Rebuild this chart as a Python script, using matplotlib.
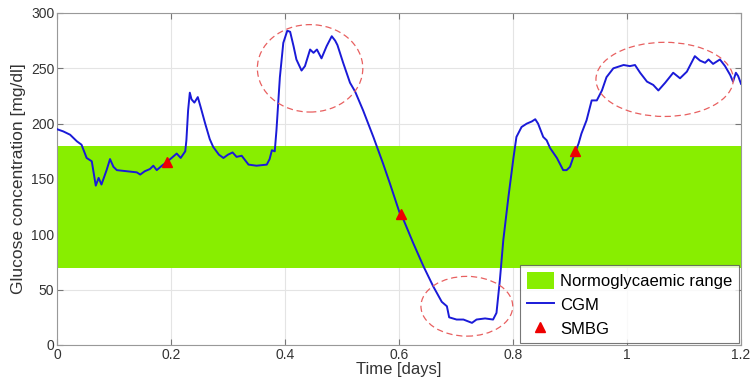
import matplotlib
matplotlib.use("Agg")
import matplotlib.pyplot as plt
from matplotlib.patches import Ellipse

plt.rcParams['font.family'] = ['Liberation Sans', 'DejaVu Sans']

# CGM trace: time [days] and glucose [mg/dl]
cgm_t = [0.000, 0.011, 0.023, 0.035, 0.043, 0.052, 0.061, 0.068, 0.073, 0.078,
         0.087, 0.093, 0.099, 0.105, 0.122, 0.140, 0.146, 0.154, 0.163, 0.169,
         0.175, 0.184, 0.192, 0.201, 0.210, 0.217, 0.225, 0.227, 0.230, 0.233,
         0.236, 0.241, 0.247, 0.252, 0.260, 0.268, 0.274, 0.284, 0.292, 0.300,
         0.308, 0.315, 0.324, 0.336, 0.350, 0.368, 0.373, 0.377, 0.382, 0.385,
         0.391, 0.397, 0.404, 0.409, 0.415, 0.420, 0.429, 0.435, 0.444, 0.450,
         0.456, 0.464, 0.473, 0.482, 0.488, 0.492, 0.502, 0.514, 0.523, 0.537,
         0.555, 0.572, 0.584, 0.602, 0.608, 0.625, 0.643, 0.660, 0.675, 0.684,
         0.688, 0.701, 0.713, 0.728, 0.736, 0.751, 0.765, 0.771, 0.777, 0.783,
         0.792, 0.801, 0.806, 0.815, 0.824, 0.833, 0.839, 0.844, 0.853, 0.859,
         0.865, 0.877, 0.888, 0.894, 0.900, 0.906, 0.915, 0.920, 0.929, 0.938,
         0.947, 0.956, 0.964, 0.976, 0.994, 1.005, 1.014, 1.023, 1.035, 1.046,
         1.055, 1.067, 1.081, 1.093, 1.105, 1.119, 1.128, 1.137, 1.143, 1.151,
         1.163, 1.172, 1.181, 1.186, 1.191, 1.195, 1.200]
cgm_g = [195, 193, 190, 184, 181, 169, 166, 144, 151, 145,
         158, 168, 161, 158, 157, 156, 154, 157, 159, 162,
         158, 162, 165, 169, 173, 169, 175, 185, 212, 228,
         222, 219, 224, 215, 200, 186, 179, 172, 169, 172,
         174, 170, 171, 163, 162, 163, 168, 176, 175, 194,
         242, 273, 284, 283, 270, 258, 248, 252, 267, 264,
         267, 259, 270, 279, 275, 271, 255, 237, 229, 212,
         188, 164, 146, 118, 113, 92, 71, 53, 39, 35,
         25, 23, 23, 20, 23, 24, 23, 29, 59, 95,
         134, 170, 188, 197, 200, 202, 204, 200, 188, 185,
         178, 169, 158, 158, 161, 170, 182, 191, 203, 221,
         221, 230, 242, 250, 253, 252, 253, 246, 238, 235,
         230, 237, 246, 241, 247, 261, 257, 255, 258, 254,
         258, 252, 244, 238, 246, 243, 236]

# SMBG finger-stick measurements
smbg_t = [0.193, 0.603, 0.909]
smbg_g = [165, 118, 175]

# normoglycaemic band limits
normo_low, normo_high = 70, 180

# highlighted episodes: (centre t, centre g, width, height)
episodes = [(0.444, 250, 0.185, 79),
            (0.719, 35, 0.161, 54),
            (1.066, 240, 0.241, 67)]

fig = plt.figure(figsize=(7.52, 3.81), dpi=100)
ax = fig.add_axes([0.0758, 0.0945, 0.9096, 0.8714])

ax.axhspan(normo_low, normo_high, color='#88ee00', lw=0,
           label='Normoglycaemic range', zorder=1)
ax.plot(cgm_t, cgm_g, color='#1a1ad8', lw=1.4, label='CGM', zorder=3)
ax.plot(smbg_t, smbg_g, '^', color='#ee0000', ms=7, ls='none',
        label='SMBG', zorder=4)

for cx, cy, w, h in episodes:
    ax.add_patch(Ellipse((cx, cy), w, h, fill=False, ec='#e86060',
                         ls=(0, (5, 3)), lw=0.9, zorder=5))

ax.set_xlim(0, 1.2)
ax.set_ylim(0, 300)
ax.set_xticks([0, 0.2, 0.4, 0.6, 0.8, 1, 1.2])
ax.set_xticklabels(['0', '0.2', '0.4', '0.6', '0.8', '1', '1.2'])
ax.set_yticks(range(0, 301, 50))
ax.grid(True, color='#e4e4e4', lw=0.8, zorder=0)
ax.set_axisbelow(True)
ax.tick_params(direction='in', length=4, top=True, right=True,
               labelsize=10, colors='#777777', labelcolor='#333333', pad=2)
for s in ax.spines.values():
    s.set_color('#999999')

ax.set_xlabel('Time [days]', fontsize=12, color='#333333', labelpad=0)
ax.set_ylabel('Glucose concentration [mg/dl]', fontsize=12.5, color='#333333')
ax.yaxis.set_label_coords(-0.045, 0.5)

leg = ax.legend(loc='lower right', fontsize=12, frameon=True, fancybox=False,
                edgecolor='#555555', borderaxespad=0.1, handlelength=1.6,
                handleheight=1.2, handletextpad=0.4, labelspacing=0.4,
                borderpad=0.4)
leg.get_frame().set_linewidth(0.8)

fig.savefig('out.png', dpi=100)
